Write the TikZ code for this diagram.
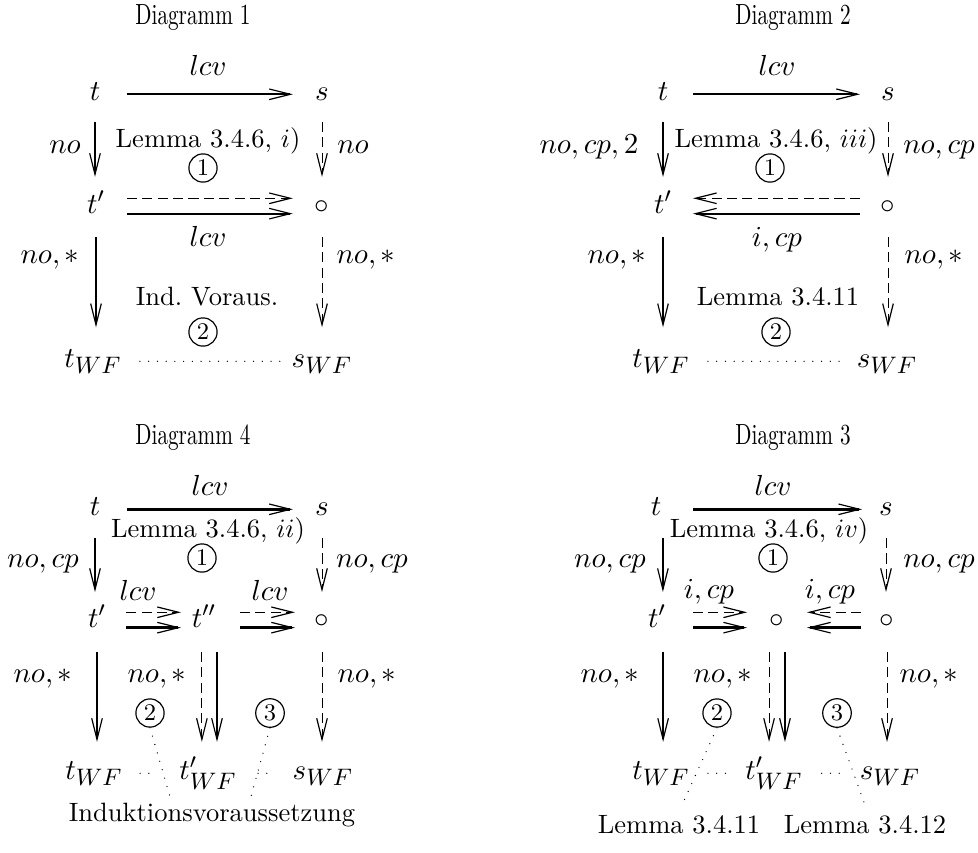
\documentclass[tikz,border=0pt]{standalone}
\usepackage{graphicx}
\usetikzlibrary{arrows.meta}
\newcommand{\wfsub}{\hbox{\fontsize{9}{10}\selectfont$WF$}}
\begin{document}
\begin{tikzpicture}[x=0.3774pt,y=-0.3774pt,
  >={Straight Barb[length=8pt,width=4pt,line width=0.45pt]},
  m/.style={anchor=base,inner sep=0pt,font=\fontsize{11}{13}\selectfont},
  txt/.style={anchor=base,inner sep=0pt,font=\fontsize{10}{12}\selectfont},
  ttl/.style={anchor=center,inner sep=0pt,font=\fontsize{10}{12}\selectfont},
  cnum/.style={circle,draw,line width=0.45pt,inner sep=1.1pt,font=\fontsize{9}{10}\selectfont},
  thk/.style={line width=1.1pt},
  med/.style={line width=0.75pt},
  thn/.style={line width=0.6pt},
  dsh/.style={line width=0.35pt,dash pattern=on 3.8pt off 2pt},
  dotl/.style={line width=0.5pt,dash pattern=on 0pt off 3.3pt,line cap=round},
]
\useasboundingbox (0,0) rectangle (978,852);

% ================= Diagramm 1 =================
\node[ttl] (ti1) at (193,18) {\scalebox{0.8}[1.1]{Diagramm 1}};
\node[m] (t1) at (95,100) {$t$};
\node[m] (s1) at (322,100) {$s$};
\node[m] (tp1) at (96,213) {$t'$};
\node[m] (o1) at (322,213) {$\circ$};
\node[m] (tw1) at (93,367) {$t_{\wfsub}$};
\node[m] (sw1) at (322,367) {$s_{\wfsub}$};
\draw[med,->,shorten <=12pt,shorten >=11pt] (t1.mid) -- (s1.mid);
\draw[thk,->,shorten <=8.3pt,shorten >=13.6pt] (t1.base) -- (t1.base |- tp1.base);
\draw[dsh,->,shorten <=8.3pt,shorten >=13.6pt] (s1.base) -- (s1.base |- o1.base);
\draw[dsh,->,shorten <=11.7pt,shorten >=11pt] ([yshift=3.4pt]tp1.mid) -- ([yshift=3.4pt]o1.mid);
\draw[med,->,shorten <=11.7pt,shorten >=11pt] ([yshift=-2.4pt]tp1.mid) -- ([yshift=-2.4pt]o1.mid);
\draw[thk,->,shorten <=9pt,shorten >=15pt] (tp1.base) -- (tp1.base |- tw1.base);
\draw[dsh,->,shorten <=9pt,shorten >=15pt] (o1.base) -- (o1.base |- sw1.base);
\draw[dotl,shorten <=17.7pt,shorten >=15.8pt] (tw1.mid) -- (sw1.mid);
\node[m] (l1a) at (208,75) {$lcv$};
\node[m] (l1b) at (65,153) {$no$};
\node[m] (l1c) at (353,153) {$no$};
\node[txt] (l1d) at (208,147) {Lemma 3.4.6, $i$)};
\node[cnum] (c1a) at (203,168) {1};
\node[m] (l1e) at (208,246) {$lcv$};
\node[m] (l1f) at (50,263) {$no,*$};
\node[m] (l1g) at (366,263) {$no,*$};
\node[txt] (l1h) at (207,305) {Ind.\ Voraus.};
\node[cnum] (c1b) at (203,332) {2};

% ================= Diagramm 2 =================
\node[ttl] (ti2) at (793,18) {\scalebox{0.8}[1.1]{Diagramm 2}};
\node[m] (t2) at (663,100) {$t$};
\node[m] (s2) at (888,100) {$s$};
\node[m] (tp2) at (663,213) {$t'$};
\node[m] (o2) at (888,213) {$\circ$};
\node[m] (tw2) at (661,367) {$t_{\wfsub}$};
\node[m] (sw2) at (887,367) {$s_{\wfsub}$};
\draw[med,->,shorten <=11.3pt,shorten >=10.6pt] (t2.mid) -- (s2.mid);
\draw[thn,->,shorten <=8.3pt,shorten >=13.6pt] (t2.base) -- (t2.base |- tp2.base);
\draw[dsh,->,shorten <=8.3pt,shorten >=13.6pt] (s2.base) -- (s2.base |- o2.base);
\draw[dsh,->,shorten <=10.6pt,shorten >=11.3pt] ([yshift=3.4pt]o2.mid) -- ([yshift=3.4pt]tp2.mid);
\draw[med,->,shorten <=10.6pt,shorten >=11.3pt] ([yshift=-2.4pt]o2.mid) -- ([yshift=-2.4pt]tp2.mid);
\draw[thn,->,shorten <=9pt,shorten >=15pt] (tp2.base) -- (tp2.base |- tw2.base);
\draw[dsh,->,shorten <=9pt,shorten >=15pt] (o2.base) -- (o2.base |- sw2.base);
\draw[dotl,shorten <=17.7pt,shorten >=15.8pt] (tw2.mid) -- (sw2.mid);
\node[m] (l2a) at (777,75) {$lcv$};
\node[m] (l2b) at (589,153) {$no,cp,2$};
\node[m] (l2c) at (939,153) {$no,cp$};
\node[txt] (l2d) at (776,147) {Lemma 3.4.6, $iii$)};
\node[cnum] (c2a) at (770,168) {1};
\node[m] (l2e) at (777,246) {$i,cp$};
\node[m] (l2f) at (617,263) {$no,*$};
\node[m] (l2g) at (934,263) {$no,*$};
\node[txt] (l2h) at (778,305) {Lemma 3.4.11};
\node[cnum] (c2b) at (776,332) {2};

% ================= Diagramm 4 =================
\node[ttl] (ti4) at (193,438) {\scalebox{0.8}[1.1]{Diagramm 4}};
\node[m] (t4) at (95,515) {$t$};
\node[m] (s4) at (322,515) {$s$};
\node[m] (tp4) at (97,627) {$t'$};
\node[m] (tpp4) at (204,627) {$t''$};
\node[m] (o4) at (322,627) {$\circ$};
\node[m] (tw4) at (94,779) {$t_{\wfsub}$};
\node[m] (tpw4) at (208,779) {$t'_{\wfsub}$};
\node[m] (sw4) at (323,779) {$s_{\wfsub}$};
\draw[thk,->,shorten <=12pt,shorten >=11pt] (t4.mid) -- (s4.mid);
\draw[thk,->,shorten <=8.7pt,shorten >=13.2pt] (t4.base) -- (t4.base |- tp4.base);
\draw[dsh,->,shorten <=8.7pt,shorten >=13.2pt] (s4.base) -- (s4.base |- o4.base);
\draw[dsh,->,shorten <=11pt,shorten >=8.7pt] ([yshift=3.4pt]tp4.mid) -- ([yshift=3.4pt]tpp4.mid);
\draw[thk,->,shorten <=11pt,shorten >=8.7pt] ([yshift=-2.4pt]tp4.mid) -- ([yshift=-2.4pt]tpp4.mid);
\draw[dsh,->,shorten <=13.6pt,shorten >=10.2pt] ([yshift=3.4pt]tpp4.mid) -- ([yshift=3.4pt]o4.mid);
\draw[thk,->,shorten <=13.6pt,shorten >=10.2pt] ([yshift=-2.4pt]tpp4.mid) -- ([yshift=-2.4pt]o4.mid);
\draw[thk,->,shorten <=9.4pt,shorten >=14pt] (tp4.base) -- (tp4.base |- tw4.base);
\draw[dsh,->,shorten <=9.4pt,shorten >=14pt] ([xshift=-0.8pt]tpp4.base) -- ([xshift=-0.8pt]tpp4.base |- tpw4.base);
\draw[thk,->,shorten <=9.4pt,shorten >=14pt] ([xshift=4.9pt]tpp4.base) -- ([xshift=4.9pt]tpp4.base |- tpw4.base);
\draw[dsh,->,shorten <=9.4pt,shorten >=14pt] (o4.base) -- (o4.base |- sw4.base);
\draw[dotl,shorten <=17.4pt,shorten >=20pt] (tw4.mid) -- (tpw4.mid);
\draw[dotl,shorten <=18.9pt,shorten >=18.9pt] (tpw4.mid) -- (sw4.mid);
\node[m] (l4a) at (210,495) {$lcv$};
\node[txt] (l4b) at (208,537) {Lemma 3.4.6, $ii$)};
\node[cnum] (c4a) at (202,558) {1};
\node[m] (l4c) at (43,567) {$no,cp$};
\node[m] (l4d) at (372,567) {$no,cp$};
\node[m] (l4e) at (138,600) {$lcv$};
\node[m] (l4f) at (270,600) {$lcv$};
\node[m] (l4g) at (43,682) {$no,*$};
\node[m] (l4h) at (157,682) {$no,*$};
\node[m] (l4i) at (367,682) {$no,*$};
\node[cnum] (c4b) at (150,713) {2};
\node[cnum] (c4c) at (270,713) {3};
\node[txt] (ind) at (212,821) {Induktionsvoraussetzung};
\coordinate (ind2) at (171,800);
\coordinate (ind3) at (250,800);
\draw[dotl] (c4b.south) -- (ind2);
\draw[dotl] (c4c.south) -- (ind3);

% ================= Diagramm 3 =================
\node[ttl] (ti3) at (793,438) {\scalebox{0.8}[1.1]{Diagramm 3}};
\node[m] (t3) at (656,515) {$t$};
\node[m] (s3) at (886,515) {$s$};
\node[m] (tp3) at (657,627) {$t'$};
\node[m] (om3) at (777,627) {$\circ$};
\node[m] (o3) at (887,627) {$\circ$};
\node[m] (tw3) at (661,779) {$t_{\wfsub}$};
\node[m] (tpw3) at (774,779) {$t'_{\wfsub}$};
\node[m] (sw3) at (890,779) {$s_{\wfsub}$};
\draw[thk,->,shorten <=14pt,shorten >=9pt] (t3.mid) -- (s3.mid);
\draw[thn,->,shorten <=8.7pt,shorten >=13.2pt] ([xshift=2.6pt]t3.base) -- ([xshift=2.6pt]t3.base |- tp3.base);
\draw[dsh,->,shorten <=8.7pt,shorten >=13.2pt] (s3.base) -- (s3.base |- o3.base);
\draw[dsh,->,shorten <=13.6pt,shorten >=11.3pt] ([yshift=3.4pt]tp3.mid) -- ([yshift=3.4pt]om3.mid);
\draw[thk,->,shorten <=13.6pt,shorten >=11.3pt] ([yshift=-2.4pt]tp3.mid) -- ([yshift=-2.4pt]om3.mid);
\draw[dsh,->,shorten <=9.8pt,shorten >=11.3pt] ([yshift=3.4pt]o3.mid) -- ([yshift=3.4pt]om3.mid);
\draw[thk,->,shorten <=9.8pt,shorten >=11.3pt] ([yshift=-2.4pt]o3.mid) -- ([yshift=-2.4pt]om3.mid);
\draw[thn,->,shorten <=9.4pt,shorten >=14pt] ([xshift=2.3pt]tp3.base) -- ([xshift=2.3pt]tp3.base |- tw3.base);
\draw[dsh,->,shorten <=9.4pt,shorten >=14pt] ([xshift=-3pt]om3.base) -- ([xshift=-3pt]om3.base |- tpw3.base);
\draw[thn,->,shorten <=9.4pt,shorten >=14pt] ([xshift=3pt]om3.base) -- ([xshift=3pt]om3.base |- tpw3.base);
\draw[dsh,->,shorten <=9.4pt,shorten >=14pt] (o3.base) -- (o3.base |- sw3.base);
\draw[dotl,shorten <=17.7pt,shorten >=17.4pt] (tw3.mid) -- (tpw3.mid);
\draw[dotl,shorten <=18pt,shorten >=17.7pt] (tpw3.mid) -- (sw3.mid);
\node[m] (l3a) at (773,495) {$lcv$};
\node[txt] (l3b) at (769,537) {Lemma 3.4.6, $iv$)};
\node[cnum] (c3a) at (773,558) {1};
\node[m] (l3c) at (610,567) {$no,cp$};
\node[m] (l3d) at (939,567) {$no,cp$};
\node[m] (l3e) at (709,598) {$i,cp$};
\node[m] (l3f) at (830,598) {$i,cp$};
\node[m] (l3g) at (610,682) {$no,*$};
\node[m] (l3h) at (723,682) {$no,*$};
\node[m] (l3i) at (929,682) {$no,*$};
\node[cnum] (c3b) at (717,713) {2};
\node[cnum] (c3c) at (837,713) {3};
\node[txt] (lem1) at (679,833) {Lemma 3.4.11};
\node[txt] (lem2) at (865,833) {Lemma 3.4.12};
\coordinate (lem1a) at (682,805);
\coordinate (lem2a) at (865,805);
\draw[dotl] (c3b.south) -- (lem1a);
\draw[dotl] (c3c.south) -- (lem2a);
\end{tikzpicture}
\end{document}
